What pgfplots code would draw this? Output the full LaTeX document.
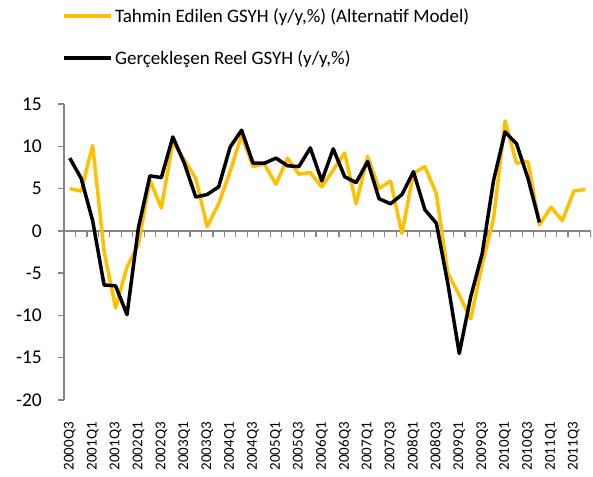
\documentclass[border=0pt]{standalone}
\usepackage{fontspec}
\setmainfont{Carlito}
\usepackage{pgfplots}
\usepackage{pgfplotstable}
\pgfplotsset{compat=1.18}
\definecolor{gold}{RGB}{255,192,0}
\definecolor{axgray}{RGB}{134,134,134}

\pgfplotstableread{
i est
0 5.0
1 4.7
2 10.1
3 -2.4
4 -9.1
5 -4.3
6 -1.6
7 6.0
8 2.7
9 10.5
10 8.4
11 6.2
12 0.5
13 3.2
14 7.0
15 11.3
16 7.6
17 7.9
18 5.5
19 8.6
20 6.7
21 6.9
22 5.2
23 7.2
24 9.2
25 3.2
26 8.8
27 5.0
28 5.9
29 -0.3
30 6.8
31 7.6
32 4.4
33 -5.0
34 -7.6
35 -10.4
36 -4.0
37 1.5
38 13.0
39 8.0
40 8.2
41 0.7
42 2.8
43 1.2
44 4.7
45 4.9
}\estdata

\pgfplotstableread{
i act
0 8.6
1 6.2
2 1.2
3 -6.4
4 -6.5
5 -9.9
6 0.4
7 6.5
8 6.3
9 11.1
10 8.0
11 4.0
12 4.3
13 5.2
14 9.9
15 11.9
16 8.0
17 8.0
18 8.6
19 7.7
20 7.6
21 9.8
22 5.9
23 9.7
24 6.4
25 5.7
26 8.2
27 3.8
28 3.2
29 4.3
30 7.0
31 2.5
32 0.9
33 -6.2
34 -14.5
35 -7.8
36 -2.7
37 6.0
38 11.7
39 10.3
40 6.2
41 1.0
}\actdata

\begin{document}
\begin{tikzpicture}
\useasboundingbox (-64pt,-76pt) rectangle (529pt,400pt);
\begin{axis}[
  at={(0pt,0pt)}, anchor=south west,
  scale only axis, width=527pt, height=296pt,
  xmin=-0.5, xmax=45.5, ymin=-20, ymax=15,
  axis y line*=left, axis x line*=bottom,
  x axis line style={draw=none},
  y axis line style={axgray, line width=1.5pt},
  tick align=outside,
  ytick={-20,-15,-10,-5,0,5,10,15},
  yticklabels={-20,-15,-10,-5,0,5,10,15},
  ytick style={axgray, line width=1.5pt},
  major tick length=6pt,
  yticklabel style={font=\fontsize{19.5}{22}\selectfont, inner sep=0pt},
  yticklabel shift=16pt,
  xtick={0,2,...,44},
  xticklabels={2000Q3,2001Q1,2001Q3,2002Q1,2002Q3,2003Q1,2003Q3,2004Q1,2004Q3,2005Q1,2005Q3,2006Q1,2006Q3,2007Q1,2007Q3,2008Q1,2008Q3,2009Q1,2009Q3,2010Q1,2010Q3,2011Q1,2011Q3},
  xtick style={draw=none},
  xticklabel style={font=\fontsize{15}{18}\selectfont, rotate=90, anchor=east, inner sep=0pt},
  xticklabel shift=16pt,
  extra y ticks={0},
  extra y tick labels={},
  extra y tick style={grid=major, major grid style={axgray, line width=1.5pt}},
  legend style={at={(-0.004,1.333)}, anchor=north west, draw=none, fill=none,
    font=\fontsize{19}{23}\selectfont, row sep=22pt, inner sep=0pt,
    nodes={inner sep=2.5pt}},
  legend cell align=left,
  legend image code/.code={\draw[#1] (0pt,0pt) -- (47pt,0pt);},
]
\pgfplotsinvokeforeach{-0.5,0.5,...,45.5}{
  \draw[axgray, line width=1.2pt] (axis cs:#1,0) -- ([yshift=-6pt]axis cs:#1,0);
}
\addplot[gold, line width=3.5pt, line join=round] table[x=i, y=est] {\estdata};
\addlegendentry{Tahmin Edilen GSYH (y/y,\%) (Alternatif Model)}
\addplot[black, line width=3.5pt, line join=round] table[x=i, y=act] {\actdata};
\addlegendentry{Gerçekleşen Reel GSYH (y/y,\%)}
\end{axis}
\end{tikzpicture}
\end{document}
